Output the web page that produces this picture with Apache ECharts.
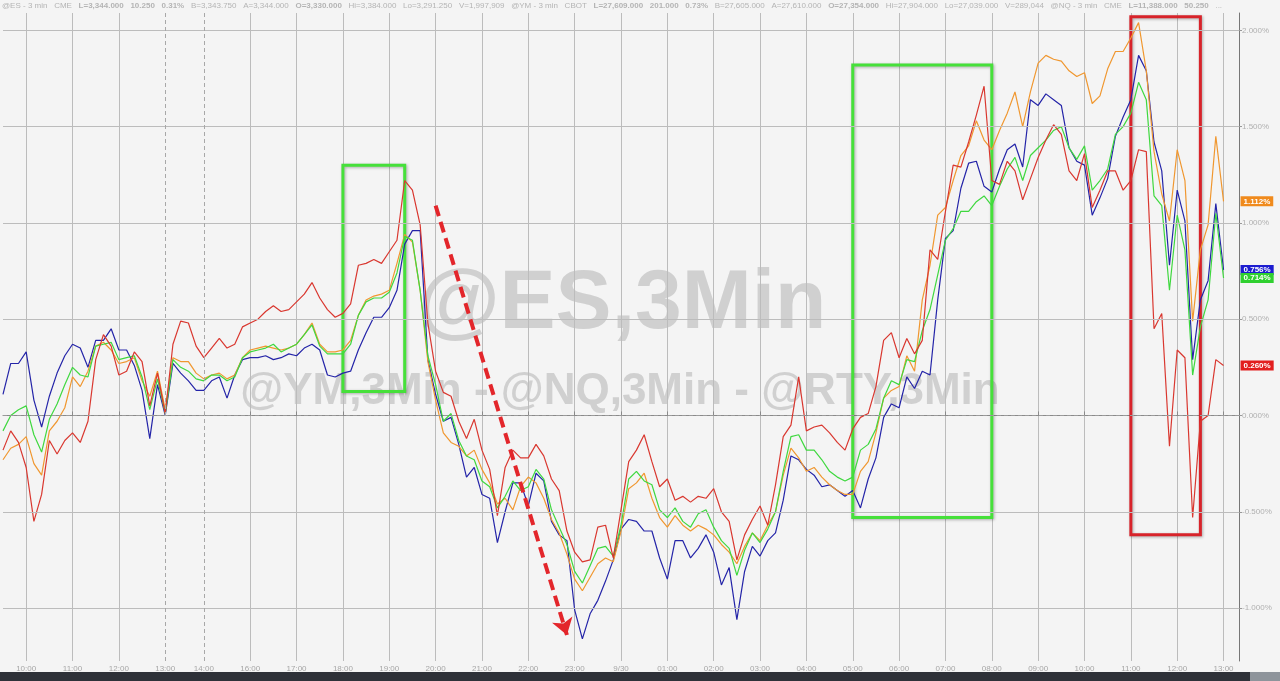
<!DOCTYPE html>
<html>
<head>
<meta charset="utf-8">
<title>@ES,3Min</title>
<script src="https://cdn.jsdelivr.net/npm/echarts@6/dist/echarts.min.js"></script>
<style>
  html, body { margin: 0; padding: 0; background: #f4f4f4; }
  #chart { width: 1280px; height: 681px; }
</style>
</head>
<body>
<div id="chart"></div>
<script>
// trading sessions, 10 minute steps: [date, first, last]
const sessions = [
  ['9/29', '09:30', '13:10'],
  ['9/29', '13:30', '14:00'],
  ['9/29', '15:10', '23:50'],
  ['9/30', '00:00', '13:20']
]

// % change, one value per category
const esValues = [
  0.11, 0.27, 0.27, 0.33, 0.08, -0.06, 0.10, 0.22, 0.31, 0.37,
  0.35, 0.25, 0.39, 0.39, 0.45, 0.34, 0.34, 0.26, 0.13, -0.12,
  0.16, 0.00, 0.27, 0.22, 0.18, 0.13, 0.13, 0.18, 0.20, 0.09,
  0.21, 0.29, 0.30, 0.30, 0.31, 0.29, 0.30, 0.32, 0.31, 0.35,
  0.37, 0.34, 0.21, 0.20, 0.22, 0.23, 0.34, 0.43, 0.51, 0.51,
  0.56, 0.65, 0.89, 0.96, 0.96, 0.29, 0.11, -0.03, -0.01, -0.15,
  -0.32, -0.27, -0.41, -0.43, -0.66, -0.50, -0.35, -0.35, -0.47, -0.30,
  -0.34, -0.55, -0.62, -0.65, -1.01, -1.16, -1.03, -0.96, -0.86, -0.75,
  -0.59, -0.54, -0.55, -0.60, -0.60, -0.74, -0.85, -0.65, -0.65, -0.74,
  -0.69, -0.62, -0.71, -0.88, -0.79, -1.06, -0.81, -0.68, -0.73, -0.65,
  -0.61, -0.44, -0.21, -0.23, -0.28, -0.31, -0.37, -0.36, -0.39, -0.42,
  -0.39, -0.48, -0.33, -0.22, -0.01, 0.06, 0.04, 0.20, 0.14, 0.23,
  0.21, 0.60, 0.92, 0.96, 1.18, 1.31, 1.32, 1.19, 1.16, 1.28,
  1.38, 1.41, 1.29, 1.64, 1.61, 1.67, 1.64, 1.61, 1.39, 1.32,
  1.30, 1.04, 1.13, 1.23, 1.45, 1.55, 1.64, 1.87, 1.79, 1.42,
  1.27, 0.78, 1.17, 1.01, 0.29, 0.60, 0.70, 1.10, 0.756
]
const ymValues = [
  -0.08, 0.00, 0.03, 0.05, -0.10, -0.19, -0.02, 0.06, 0.16, 0.25,
  0.21, 0.20, 0.36, 0.37, 0.38, 0.29, 0.30, 0.31, 0.20, 0.03,
  0.19, 0.01, 0.29, 0.25, 0.23, 0.19, 0.18, 0.21, 0.21, 0.18,
  0.20, 0.30, 0.33, 0.34, 0.35, 0.37, 0.33, 0.35, 0.37, 0.42,
  0.47, 0.36, 0.32, 0.32, 0.32, 0.37, 0.52, 0.59, 0.61, 0.61,
  0.64, 0.74, 0.93, 0.91, 0.65, 0.31, 0.16, -0.03, 0.01, -0.13,
  -0.21, -0.23, -0.34, -0.37, -0.48, -0.42, -0.34, -0.39, -0.37, -0.28,
  -0.33, -0.49, -0.58, -0.67, -0.81, -0.87, -0.78, -0.69, -0.68, -0.73,
  -0.57, -0.33, -0.29, -0.34, -0.36, -0.49, -0.53, -0.48, -0.55, -0.58,
  -0.51, -0.49, -0.58, -0.65, -0.69, -0.83, -0.70, -0.61, -0.66, -0.59,
  -0.50, -0.29, -0.11, -0.10, -0.18, -0.18, -0.23, -0.29, -0.32, -0.34,
  -0.32, -0.18, -0.15, -0.07, 0.09, 0.18, 0.16, 0.29, 0.28, 0.44,
  0.55, 0.73, 0.91, 0.97, 1.06, 1.06, 1.11, 1.14, 1.09, 1.19,
  1.28, 1.34, 1.22, 1.35, 1.39, 1.43, 1.48, 1.50, 1.39, 1.33,
  1.40, 1.17, 1.22, 1.28, 1.46, 1.50, 1.57, 1.73, 1.64, 1.14,
  1.09, 0.65, 1.04, 0.86, 0.21, 0.46, 0.60, 1.05, 0.714
]
const nqValues = [
  -0.23, -0.17, -0.15, -0.11, -0.25, -0.31, -0.08, -0.03, 0.04, 0.20,
  0.15, 0.23, 0.36, 0.38, 0.34, 0.27, 0.28, 0.30, 0.18, 0.10,
  0.23, 0.03, 0.30, 0.28, 0.28, 0.22, 0.19, 0.21, 0.22, 0.19,
  0.21, 0.30, 0.34, 0.35, 0.36, 0.35, 0.34, 0.35, 0.37, 0.42,
  0.48, 0.37, 0.33, 0.33, 0.34, 0.39, 0.52, 0.60, 0.62, 0.63,
  0.65, 0.79, 0.94, 0.90, 0.65, 0.28, 0.08, -0.09, -0.14, -0.16,
  -0.21, -0.18, -0.28, -0.35, -0.46, -0.43, -0.49, -0.37, -0.32, -0.35,
  -0.43, -0.54, -0.61, -0.72, -0.85, -0.91, -0.84, -0.77, -0.74, -0.76,
  -0.60, -0.38, -0.35, -0.30, -0.43, -0.53, -0.58, -0.52, -0.57, -0.60,
  -0.57, -0.59, -0.62, -0.67, -0.71, -0.77, -0.68, -0.61, -0.65, -0.57,
  -0.50, -0.31, -0.17, -0.22, -0.29, -0.27, -0.32, -0.36, -0.39, -0.41,
  -0.41, -0.29, -0.24, -0.09, 0.09, 0.13, 0.15, 0.31, 0.23, 0.60,
  0.78, 1.04, 1.08, 1.22, 1.35, 1.40, 1.53, 1.43, 1.38, 1.48,
  1.57, 1.68, 1.50, 1.68, 1.83, 1.87, 1.85, 1.84, 1.79, 1.76,
  1.78, 1.62, 1.66, 1.80, 1.89, 1.89, 1.96, 2.04, 1.79, 1.37,
  1.15, 1.01, 1.38, 1.22, 0.49, 0.86, 0.99, 1.45, 1.112
]
const rtyValues = [
  -0.18, -0.08, -0.14, -0.27, -0.55, -0.41, -0.13, -0.20, -0.13, -0.09,
  -0.14, -0.03, 0.29, 0.42, 0.36, 0.21, 0.23, 0.33, 0.28, 0.05,
  0.22, 0.01, 0.37, 0.49, 0.48, 0.36, 0.30, 0.35, 0.40, 0.35,
  0.37, 0.46, 0.48, 0.50, 0.54, 0.57, 0.54, 0.55, 0.59, 0.63,
  0.69, 0.61, 0.55, 0.51, 0.53, 0.58, 0.78, 0.79, 0.81, 0.79,
  0.85, 0.91, 1.22, 1.17, 0.99, 0.48, 0.23, 0.12, 0.10, -0.03,
  -0.12, -0.02, -0.18, -0.28, -0.52, -0.27, -0.18, -0.22, -0.22, -0.15,
  -0.21, -0.33, -0.39, -0.60, -0.71, -0.76, -0.75, -0.58, -0.57, -0.74,
  -0.49, -0.24, -0.18, -0.10, -0.24, -0.37, -0.33, -0.44, -0.42, -0.45,
  -0.42, -0.43, -0.38, -0.50, -0.55, -0.75, -0.62, -0.54, -0.47, -0.57,
  -0.36, -0.11, -0.05, 0.20, -0.08, -0.06, -0.05, -0.09, -0.14, -0.18,
  -0.07, -0.01, 0.01, 0.15, 0.39, 0.43, 0.30, 0.40, 0.32, 0.39,
  0.86, 0.81, 1.06, 1.30, 1.29, 1.42, 1.56, 1.71, 1.22, 1.20,
  1.32, 1.27, 1.12, 1.23, 1.34, 1.43, 1.51, 1.46, 1.27, 1.22,
  1.36, 1.08, 1.17, 1.27, 1.27, 1.17, 1.22, 1.38, 1.37, 0.45,
  0.53, -0.16, 0.34, 0.30, -0.53, -0.03, 0.00, 0.29, 0.26
]

const yTicks = [-1, -0.5, 0, 0.5, 1, 1.5, 2]
const sessionBreaks = ['9/29 13:00', '9/29 14:00']

// annotations: [from, to] as [category, value]
const greenBoxes = [
  [['9/29 18:00', 1.30], ['9/29 19:20', 0.125]],
  [['9/30 05:00', 1.82], ['9/30 08:00', -0.53]]
]
const redBox = [['9/30 11:00', 2.07], ['9/30 12:30', -0.62]]
const arrowLine = [['9/29 20:00', 1.09], ['9/29 22:50', -1.14]]

const headerItems = [
  ['@ES - 3 min', 'g'], ['CME', 'g'], ['L=3,344.000', 'n'], ['10.250', 'n'], ['0.31%', 'n'],
  ['B=3,343.750', 'g'], ['A=3,344.000', 'g'], ['O=3,330.000', 'n'], ['Hi=3,384.000', 'g'],
  ['Lo=3,291.250', 'g'], ['V=1,997,909', 'g'],
  ['@YM - 3 min', 'g'], ['CBOT', 'g'], ['L=27,609.000', 'n'], ['201.000', 'n'], ['0.73%', 'n'],
  ['B=27,605.000', 'g'], ['A=27,610.000', 'g'], ['O=27,354.000', 'n'], ['Hi=27,904.000', 'g'],
  ['Lo=27,039.000', 'g'], ['V=289,044', 'g'],
  ['@NQ - 3 min', 'g'], ['CME', 'g'], ['L=11,388.000', 'n'], ['50.250', 'n'], ['...', 'g']
]

function toMin(s) {
  let p = s.split(':')
  return +p[0] * 60 + +p[1]
}
function pad(n) {
  return (n < 10 ? '0' : '') + n
}
const categories = []
sessions.forEach(s => {
  for (let m = toMin(s[1]); m <= toMin(s[2]); m += 10) {
    categories.push(s[0] + ' ' + pad(Math.floor(m / 60)) + ':' + pad(m % 60))
  }
})

const isHour = (idx, val) => val.slice(-2) === '00'
const isGrid = (idx, val) => isHour(idx, val) && sessionBreaks.indexOf(val) < 0

function lineSeries(name, values, color, labelColor) {
  return {
    name: name,
    type: 'line',
    data: values,
    showSymbol: false,
    silent: true,
    z: 3,
    lineStyle: { color: color, width: 1.2 },
    itemStyle: { color: color },
    endLabel: {
      show: true,
      distance: 17,
      formatter: p => p.value.toFixed(3) + '%',
      backgroundColor: labelColor,
      color: '#fff',
      fontSize: 8,
      fontWeight: 'bold',
      fontFamily: 'Liberation Sans',
      padding: [1, 3, 1, 3]
    }
  }
}

let chart = echarts.init(document.getElementById('chart'))
let option = {
  animation: false,
  backgroundColor: '#f4f4f4',
  textStyle: { fontFamily: 'Liberation Sans' },
  grid: { left: 3, right: 41, top: 13, bottom: 20 },
  xAxis: {
    type: 'category',
    data: categories,
    boundaryGap: false,
    axisLine: { lineStyle: { color: '#8a8a8a' } },
    axisTick: { inside: true, length: 4, interval: isHour, lineStyle: { color: '#8a8a8a' } },
    axisLabel: {
      interval: isHour,
      color: '#a6a6a6',
      fontSize: 8,
      margin: 4,
      formatter: v => v === '9/30 00:00' ? '9/30' : v.slice(-5)
    },
    splitLine: { show: true, interval: isGrid, lineStyle: { color: '#bcbcbc', width: 1 } }
  },
  yAxis: {
    type: 'value',
    position: 'right',
    min: -1.275,
    max: 2.09,
    splitNumber: 7,
    axisLine: { show: true, lineStyle: { color: '#777' } },
    axisTick: { show: true, length: 3, lineStyle: { color: '#999' } },
    axisLabel: {
      color: '#b0b0b0',
      fontSize: 8,
      margin: 3,
      showMinLabel: false,
      showMaxLabel: false,
      formatter: v => Math.abs(v * 2 - Math.round(v * 2)) > 1e-6 ? '' : v.toFixed(3) + '%'
    },
    splitLine: { show: false }
  },
  graphic: [
    {
      type: 'text', x: 622, y: 305, z: -1, silent: true,
      style: { text: '@ES,3Min', align: 'center', verticalAlign: 'middle', fontSize: 84, fontWeight: 'bold', fontFamily: 'Liberation Sans', fill: '#d0d0d0' }
    },
    {
      type: 'text', x: 620, y: 392, z: -1, silent: true,
      style: { text: '@YM,3Min - @NQ,3Min - @RTY,3Min', align: 'center', verticalAlign: 'middle', fontSize: 44, fontWeight: 'bold', fontFamily: 'Liberation Sans', fill: '#d0d0d0' }
    },
    {
      type: 'text', x: 2, y: 2, z: 10, silent: true,
      style: {
        text: headerItems.map(it => '{' + it[1] + '|' + it[0] + '}').join('   '),
        fontSize: 8,
        fontFamily: 'Liberation Sans',
        fill: '#b4b4b4',
        rich: {
          g: { fontSize: 8, color: '#b4b4b4', fontFamily: 'Liberation Sans' },
          n: { fontSize: 8, color: '#22c322', fontWeight: 'bold', fontFamily: 'Liberation Sans' }
        }
      }
    },
    { type: 'rect', left: 0, bottom: 0, z: 10, silent: true, shape: { width: 1280, height: 9 }, style: { fill: '#2e3138' } },
    { type: 'rect', right: 0, bottom: 0, z: 11, silent: true, shape: { width: 30, height: 9 }, style: { fill: '#8e949b' } }
  ],
  series: [
    {
      // horizontal grid and session breaks
      type: 'line',
      data: [],
      silent: true,
      z: 1,
      markLine: {
        silent: true,
        symbol: ['none', 'none'],
        label: { show: false },
        lineStyle: { color: '#bcbcbc', width: 1, type: 'solid' },
        data: yTicks.map(t => ({
          yAxis: t,
          lineStyle: t === 0 ? { color: '#9a9a9a', type: [4, 3] } : {}
        })).concat(sessionBreaks.map(b => ({
          xAxis: b,
          lineStyle: { color: '#a8a8a8', type: [4, 3] }
        })))
      }
    },
    lineSeries('@ES', esValues, '#2424a8', '#1c1cd0'),
    lineSeries('@NQ', nqValues, '#f0972f', '#f08a1c'),
    lineSeries('@YM', ymValues, '#3fd83f', '#30d030'),
    lineSeries('@RTY', rtyValues, '#d9372f', '#e21e1e'),
    {
      // annotations
      type: 'line',
      data: [],
      silent: true,
      z: 6,
      markArea: {
        silent: true,
        label: { show: false },
        data: greenBoxes.map(b => [
          { coord: b[0], itemStyle: { color: 'rgba(0,0,0,0)', borderColor: '#46e03a', borderWidth: 3, shadowBlur: 3, shadowColor: 'rgba(0,0,0,0.3)', shadowOffsetX: 1, shadowOffsetY: 1 } },
          { coord: b[1] }
        ]).concat([[
          { coord: redBox[0], itemStyle: { color: 'rgba(0,0,0,0)', borderColor: '#d8232a', borderWidth: 3, shadowBlur: 3, shadowColor: 'rgba(0,0,0,0.3)', shadowOffsetX: 1, shadowOffsetY: 1 } },
          { coord: redBox[1] }
        ]])
      },
      markLine: {
        silent: true,
        symbol: ['none', 'arrow'],
        symbolSize: 16,
        label: { show: false },
        lineStyle: { color: '#e3262b', width: 4, type: [11, 6] },
        data: [[{ coord: arrowLine[0] }, { coord: arrowLine[1] }]]
      }
    }
  ]
}
chart.setOption(option)
</script>
</body>
</html>
